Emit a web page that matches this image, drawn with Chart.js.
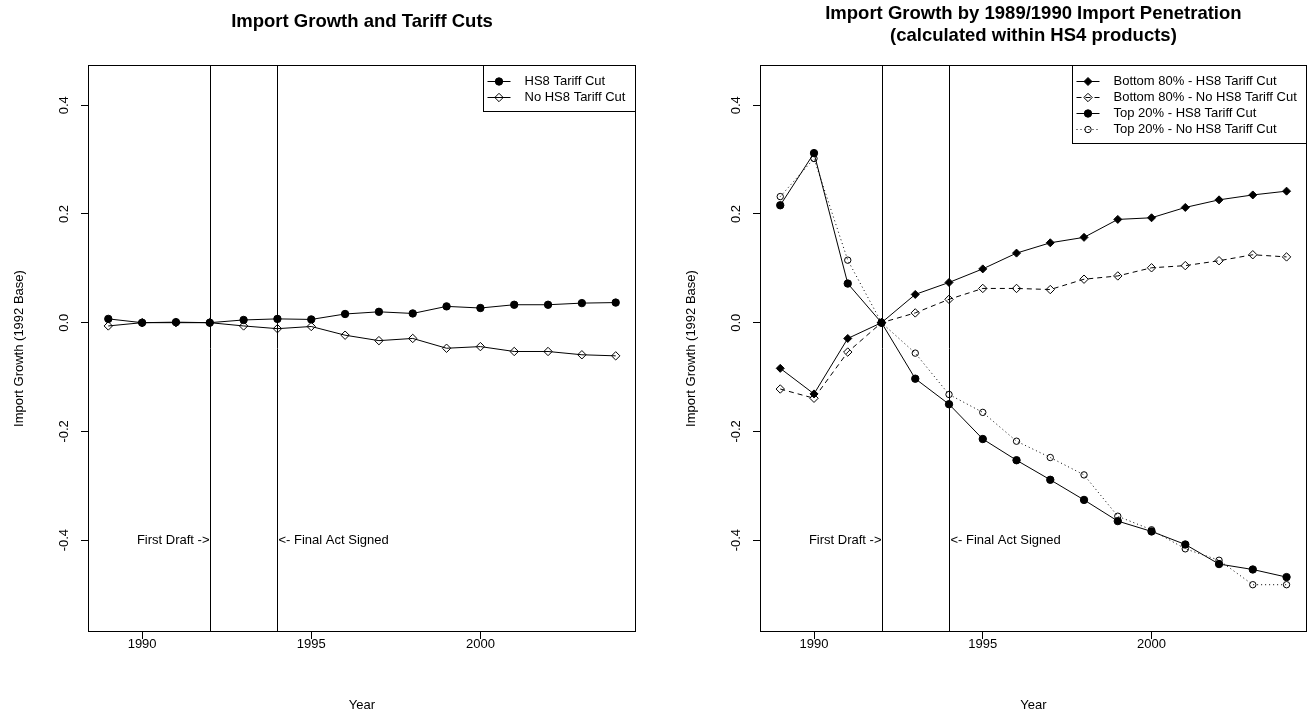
<!DOCTYPE html>
<html>
<head>
<meta charset="utf-8">
<script src="https://cdn.jsdelivr.net/npm/chart.js@4.4.1/dist/chart.umd.min.js"></script>
<style>
  html, body { margin: 0; padding: 0; background: #fff; }
  body { width: 1312px; height: 714px; position: relative; overflow: hidden; }
  canvas { position: absolute; top: 0; }
  #c1 { left: 0; }
  #c2 { left: 672px; }
</style>
</head>
<body>
<canvas id="c1" width="656" height="714"></canvas>
<canvas id="c2" width="640" height="714"></canvas>
<script>
// ---------------- data ----------------
const years = [1989, 1990, 1991, 1992, 1993, 1994, 1995, 1996, 1997, 1998, 1999, 2000, 2001, 2002, 2003, 2004];

// Left panel
const hs8Cut   = [0.007, 0.000, 0.001, 0.000, 0.005, 0.007, 0.006, 0.016, 0.020, 0.017, 0.030, 0.027, 0.033, 0.033, 0.036, 0.037];
const noHs8Cut = [-0.006, 0.000, 0.000, 0.000, -0.006, -0.011, -0.007, -0.023, -0.033, -0.029, -0.047, -0.044, -0.053, -0.053, -0.059, -0.061];

// Right panel
const bottom80Cut   = [-0.084, -0.131, -0.029, 0.000, 0.052, 0.074, 0.099, 0.128, 0.147, 0.157, 0.190, 0.193, 0.212, 0.226, 0.235, 0.242];
const bottom80NoCut = [-0.122, -0.139, -0.054, 0.000, 0.018, 0.043, 0.063, 0.063, 0.061, 0.080, 0.086, 0.101, 0.105, 0.114, 0.125, 0.121];
const top20Cut      = [0.216, 0.312, 0.072, 0.000, -0.103, -0.150, -0.214, -0.253, -0.289, -0.326, -0.365, -0.384, -0.408, -0.444, -0.454, -0.468];
const top20NoCut    = [0.232, 0.302, 0.115, 0.000, -0.056, -0.132, -0.165, -0.218, -0.248, -0.280, -0.356, -0.381, -0.416, -0.437, -0.482, -0.482];

const xTicks = [1990, 1995, 2000];
const yTicks = [-0.4, -0.2, 0.0, 0.2, 0.4];
const yRange = [-0.569, 0.474];

const eventYears  = [1992, 1994];
const eventLabels = ['First Draft ->', '<- Final Act Signed'];
const eventLabelY = -0.4;

const titleLeft  = 'Import Growth and Tariff Cuts';
const titleRight = ['Import Growth by 1989/1990 Import Penetration', '(calculated within HS4 products)'];
const yTitle = 'Import Growth (1992 Base)';
const xTitle = 'Year';

// ---------------- styling ----------------
const FAMILY = '"Liberation Sans", Arial, Helvetica, sans-serif';
const FS = 13;
const font = { family: FAMILY, size: FS, lineHeight: 1.2 };
Chart.defaults.color = '#000';
Chart.defaults.font.family = FAMILY;

const span = years[years.length - 1] - years[0];
const xMin = years[0] - 0.04 * span;
const xMax = years[years.length - 1] + 0.04 * span;

function series(label, values, style) {
  return Object.assign({
    label: label,
    data: years.map((yr, i) => ({ x: yr, y: values[i] })),
    borderColor: '#000',
    borderWidth: 1,
    pointBorderColor: '#000',
    pointBorderWidth: 1,
    tension: 0,
    fill: false
  }, style);
}

const solid = [];
const dashed = [5, 4];
const dotted = [1, 3];

const leftSets = [
  series('HS8 Tariff Cut', hs8Cut, { pointStyle: 'circle', pointRadius: 3.7, pointBackgroundColor: '#000', borderDash: solid }),
  series('No HS8 Tariff Cut', noHs8Cut, { pointStyle: 'rectRot', pointRadius: 4.2, pointBackgroundColor: 'rgba(0,0,0,0)', borderDash: solid })
];
const rightSets = [
  series('Bottom 80% - HS8 Tariff Cut', bottom80Cut, { pointStyle: 'rectRot', pointRadius: 4, pointBackgroundColor: '#000', borderDash: solid }),
  series('Bottom 80% - No HS8 Tariff Cut', bottom80NoCut, { pointStyle: 'rectRot', pointRadius: 4.2, pointBackgroundColor: 'rgba(0,0,0,0)', borderDash: dashed }),
  series('Top 20% - HS8 Tariff Cut', top20Cut, { pointStyle: 'circle', pointRadius: 3.7, pointBackgroundColor: '#000', borderDash: solid }),
  series('Top 20% - No HS8 Tariff Cut', top20NoCut, { pointStyle: 'circle', pointRadius: 3.2, pointBackgroundColor: 'rgba(0,0,0,0)', borderDash: dotted })
];

function drawSymbol(ctx, d, x, y) {
  ctx.save();
  ctx.setLineDash([]);
  ctx.lineWidth = 1;
  ctx.strokeStyle = '#000';
  ctx.fillStyle = d.pointBackgroundColor;
  if (Chart.helpers && Chart.helpers.drawPoint) {
    Chart.helpers.drawPoint(ctx, { pointStyle: d.pointStyle, radius: d.pointRadius, borderWidth: 1, rotation: 0 }, x, y);
  } else {
    ctx.beginPath();
    if (d.pointStyle === 'circle') ctx.arc(x, y, d.pointRadius, 0, Math.PI * 2);
    else { const r = d.pointRadius; ctx.moveTo(x, y - r); ctx.lineTo(x + r, y); ctx.lineTo(x, y + r); ctx.lineTo(x - r, y); ctx.closePath(); }
    ctx.fill(); ctx.stroke();
  }
  ctx.restore();
}

const rPlot = {
  id: 'rPlot',
  afterDatasetsDraw(chart) {
    const { ctx, chartArea: a, scales: { x, y } } = chart;
    ctx.save();
    ctx.strokeStyle = '#000';
    ctx.fillStyle = '#000';
    ctx.lineWidth = 1;
    ctx.setLineDash([]);
    // event lines + labels
    ctx.font = FS + 'px ' + FAMILY;
    ctx.textBaseline = 'middle';
    eventYears.forEach((yr, i) => {
      const px = Math.round(x.getPixelForValue(yr)) + 0.5;
      ctx.beginPath();
      ctx.moveTo(px, a.top);
      ctx.lineTo(px, a.bottom);
      ctx.stroke();
      const py = y.getPixelForValue(eventLabelY);
      ctx.textAlign = i === 0 ? 'right' : 'left';
      ctx.fillText(eventLabels[i], i === 0 ? px - 1 : px + 1, py);
    });
    // frame
    const L = Math.round(a.left) + 0.5, T = Math.round(a.top) + 0.5;
    const R = Math.round(a.right) - 0.5, B = Math.round(a.bottom) - 0.5;
    ctx.strokeRect(L, T, R - L, B - T);
    // legend (top right, inside frame)
    const sets = chart.data.datasets;
    const tw = Math.max(...sets.map(d => ctx.measureText(d.label).width));
    const w = Math.round(41 + tw + 10);
    const h = 30 + (sets.length - 1) * 16;
    const bx = R - w, by = T;
    ctx.fillStyle = '#fff';
    ctx.fillRect(bx, by, w, h);
    ctx.strokeRect(bx, by, w, h);
    sets.forEach((d, i) => {
      const ry = Math.round(by + 15 + i * 16) + 0.5;
      ctx.save();
      ctx.setLineDash(d.borderDash || []);
      ctx.beginPath();
      ctx.moveTo(bx + 4, ry);
      ctx.lineTo(bx + 27, ry);
      ctx.stroke();
      ctx.restore();
      drawSymbol(ctx, d, bx + 15.5, ry);
      ctx.fillStyle = '#000';
      ctx.textAlign = 'left';
      ctx.textBaseline = 'middle';
      ctx.fillText(d.label, bx + 41, ry);
    });
    ctx.restore();
  }
};

function makeChart(id, datasets, title, padRight, titlePad) {
  return new Chart(document.getElementById(id), {
    type: 'line',
    data: { datasets: datasets },
    options: {
      responsive: false,
      animation: false,
      devicePixelRatio: 1,
      events: [],
      layout: { padding: { left: 0, right: padRight, top: 0, bottom: 0 } },
      plugins: {
        legend: { display: false },
        tooltip: { enabled: false },
        title: {
          display: true, text: title, fullSize: false, color: '#000',
          font: { family: FAMILY, size: 18.5, weight: 'bold', lineHeight: 1.19 },
          padding: titlePad
        }
      },
      scales: {
        x: {
          type: 'linear', min: xMin, max: xMax,
          afterBuildTicks: s => { s.ticks = xTicks.map(v => ({ value: v })); },
          afterFit: s => { s.height = 82; },
          ticks: { autoSkip: false, maxRotation: 0, font: font, color: '#000', padding: -2, callback: v => String(v) },
          grid: { display: true, drawOnChartArea: false, drawTicks: true, tickLength: 7, color: '#000', lineWidth: 1 },
          border: { display: false },
          title: { display: true, text: xTitle, font: font, color: '#000', padding: { top: 0, bottom: 1 } }
        },
        y: {
          type: 'linear', min: yRange[0], max: yRange[1],
          afterBuildTicks: s => { s.ticks = yTicks.map(v => ({ value: v })); },
          afterFit: s => { s.width = 88; },
          ticks: { autoSkip: false, minRotation: 90, maxRotation: 90, crossAlign: 'center', font: font, color: '#000', padding: 5, callback: v => Number(v).toFixed(1) },
          grid: { display: true, drawOnChartArea: false, drawTicks: true, tickLength: 7, color: '#000', lineWidth: 1 },
          border: { display: false },
          title: { display: true, text: yTitle, font: font, color: '#000', padding: { top: 12, bottom: 0 } }
        }
      }
    },
    plugins: [rPlot]
  });
}

makeChart('c1', leftSets, titleLeft, 20, { top: 11, bottom: 32 });
makeChart('c2', rightSets, titleRight, 4, { top: 3, bottom: 18 });
</script>
</body>
</html>
